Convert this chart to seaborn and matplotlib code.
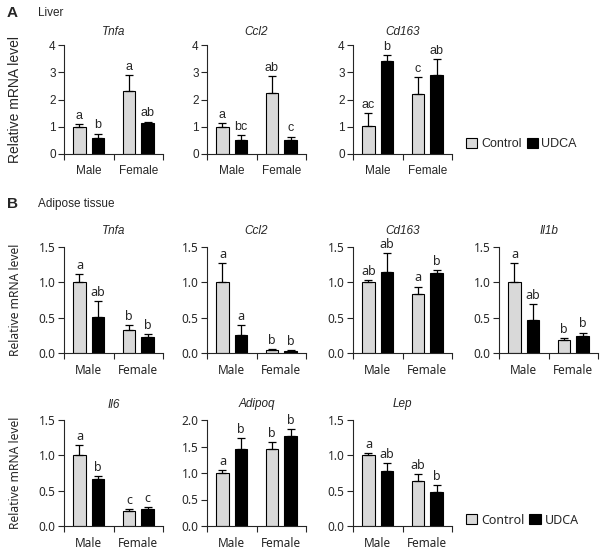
import pandas as pd
import numpy as np
import matplotlib
matplotlib.use('Agg')
import matplotlib.pyplot as plt
import seaborn as sns
from matplotlib.patches import Patch

## Datos
sexes = ['Male', 'Female']
groups = ['Control', 'UDCA']

liver_genes = ['Tnfa', 'Ccl2', 'Cd163']
liver_control = [[1.00, 2.32], [1.00, 2.24], [1.02, 2.22]]
liver_control_sem = [[0.09, 0.58], [0.15, 0.62], [0.48, 0.59]]
liver_udca = [[0.57, 1.12], [0.53, 0.53], [3.42, 2.90]]
liver_udca_sem = [[0.18, 0.07], [0.15, 0.11], [0.22, 0.60]]
liver_control_letters = [['a', 'a'], ['a', 'ab'], ['ac', 'c']]
liver_udca_letters = [['b', 'ab'], ['bc', 'c'], ['b', 'ab']]

adipose_genes = ['Tnfa', 'Ccl2', 'Cd163', 'Il1b', 'Il6', 'Adipoq', 'Lep']
adipose_control = [[1.00, 0.33], [1.00, 0.04], [1.00, 0.84], [1.00, 0.18],
                   [1.00, 0.21], [1.00, 1.45], [1.00, 0.63]]
adipose_control_sem = [[0.12, 0.06], [0.27, 0.015], [0.03, 0.10], [0.27, 0.03],
                       [0.14, 0.03], [0.06, 0.13], [0.03, 0.10]]
adipose_udca = [[0.51, 0.225], [0.25, 0.03], [1.14, 1.13], [0.47, 0.24],
                [0.67, 0.24], [1.45, 1.69], [0.78, 0.48]]
adipose_udca_sem = [[0.22, 0.045], [0.14, 0.01], [0.27, 0.05], [0.22, 0.05],
                    [0.04, 0.03], [0.21, 0.14], [0.11, 0.10]]
adipose_control_letters = [['a', 'b'], ['a', 'b'], ['ab', 'a'], ['a', 'b'],
                           ['a', 'c'], ['a', 'b'], ['a', 'ab']]
adipose_udca_letters = [['ab', 'b'], ['a', 'b'], ['ab', 'b'], ['ab', 'b'],
                        ['b', 'c'], ['b', 'b'], ['ab', 'b']]
adipose_ymax = [1.5, 1.5, 1.5, 1.5, 1.5, 2.0, 1.5]

ctrl_color = '#d9d9d9'

## Estilo
sns.set_style('ticks')
plt.rcParams['font.family'] = ['Liberation Sans', 'DejaVu Sans']
plt.rcParams['axes.linewidth'] = 0.8

W, H = 607, 552
fig = plt.figure(figsize=(W / 100, H / 100), dpi=100)

col_left = [64, 207, 353, 499]
ax_w = 99


def add_ax(left, bottom, top):
    return fig.add_axes([left / W, 1 - bottom / H, ax_w / W, (bottom - top) / H])


def draw_panel(ax, gene, ctrl, ctrl_sem, udca, udca_sem, ctrl_let, udca_let,
               ymax, step, fmt, font, ylabel, label_size, title_pad, xpad):
    df = pd.DataFrame({
        'sex': sexes * 2,
        'group': ['Control'] * 2 + ['UDCA'] * 2,
        'value': list(ctrl) + list(udca),
    })
    sns.barplot(data=df, x='sex', y='value', hue='group', order=sexes,
                hue_order=groups, palette=[ctrl_color, 'black'], saturation=1,
                width=0.75, gap=0.33, edgecolor='black', linewidth=0.8,
                errorbar=None, legend=False, ax=ax)
    sems = [ctrl_sem, udca_sem]
    lets = [ctrl_let, udca_let]
    # guardar las barras antes de que errorbar agregue sus propios contenedores
    bar_containers = list(ax.containers)
    for i, cont in enumerate(bar_containers):
        for j, bar in enumerate(cont):
            x = bar.get_x() + bar.get_width() / 2
            h = bar.get_height()
            e = sems[i][j]
            ax.errorbar(x, h, yerr=[[0], [e]], fmt='none', ecolor='black',
                        elinewidth=0.9, capsize=3, capthick=0.9)
            ax.annotate(lets[i][j], (x, h + e), xytext=(0, 1.5),
                        textcoords='offset points', ha='center', va='bottom',
                        fontsize=9, family=font)
    ax.set_ylim(0, ymax)
    ax.set_xlim(-0.5, 1.5)
    yt = np.arange(0, ymax + step / 2, step)
    ax.set_yticks(yt)
    ax.set_yticklabels([fmt.format(v) for v in yt], family=font, fontsize=8.5)
    ax.set_xticks([-0.5, 0.5, 1.5])
    ax.set_xticklabels([])
    ax.set_xticks([0, 1], minor=True)
    ax.set_xticklabels(sexes, minor=True, family=font, fontsize=8.5)
    ax.tick_params(axis='x', which='major', length=4, width=0.8, direction='out')
    ax.tick_params(axis='x', which='minor', length=0, pad=xpad)
    ax.tick_params(axis='y', length=4, width=0.8, direction='out', pad=2)
    ax.set_xlabel('')
    ax.set_ylabel('')
    if ylabel:
        ax.set_ylabel('Relative mRNA level', fontsize=label_size, family=font)
        ax.yaxis.set_label_coords(-0.42, 0.5)
    ax.set_title(gene, style='italic', fontsize=8.5, pad=title_pad)
    sns.despine(ax=ax)


## Panel A: higado
for k, gene in enumerate(liver_genes):
    ax = add_ax(col_left[k], 154, 45)
    draw_panel(ax, gene, liver_control[k], liver_control_sem[k], liver_udca[k],
               liver_udca_sem[k], liver_control_letters[k], liver_udca_letters[k],
               4, 1, '{:.0f}', 'Liberation Sans', k == 0, 10, 7, 8)

## Panel B: tejido adiposo
for k, gene in enumerate(adipose_genes):
    if k < 4:
        left, bottom, top = col_left[k], 353, 247
    else:
        left, bottom, top = col_left[k - 4], 526, 420
    ax = add_ax(left, bottom, top)
    draw_panel(ax, gene, adipose_control[k], adipose_control_sem[k], adipose_udca[k],
               adipose_udca_sem[k], adipose_control_letters[k], adipose_udca_letters[k],
               adipose_ymax[k], 0.5, '{:.1f}', 'Noto Sans', k in (0, 4), 8.7, 9, 8)

## Etiquetas de panel
fig.text(7 / W, 1 - 13 / H, 'A', fontsize=11, fontweight='bold', va='center')
fig.text(38 / W, 1 - 13 / H, 'Liver', fontsize=8.5, va='center')
fig.text(7 / W, 1 - 204 / H, 'B', fontsize=11, fontweight='bold', va='center')
fig.text(38 / W, 1 - 204 / H, 'Adipose tissue', fontsize=8.5, va='center')

## Leyendas
handles = [Patch(facecolor=ctrl_color, edgecolor='black', linewidth=0.8, label='Control'),
           Patch(facecolor='black', edgecolor='black', linewidth=0.8, label='UDCA')]
for ypx, font in [(144, 'Liberation Sans'), (520, 'Noto Sans')]:
    fig.legend(handles=handles, loc='center left', bbox_to_anchor=(466 / W, 1 - ypx / H),
               frameon=False, ncol=2, handlelength=0.9, handleheight=0.9,
               handletextpad=0.3, columnspacing=0.4, borderaxespad=0, borderpad=0,
               prop={'family': font, 'size': 9})

fig.savefig('out.png', dpi=100, facecolor='white')
